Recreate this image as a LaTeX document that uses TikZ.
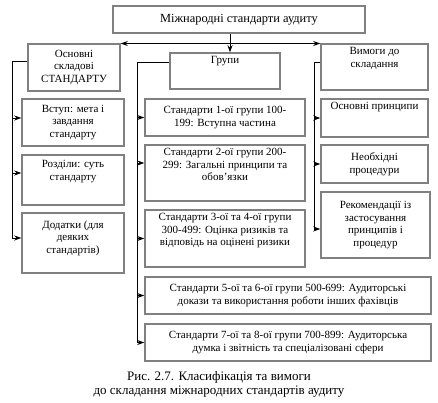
\documentclass[tikz,border=0pt]{standalone}
\usepackage{fontspec}
\setmainfont{Liberation Serif}
\usetikzlibrary{arrows.meta,positioning,calc}

\tikzset{
  blk/.style={draw=black!50,line width=1.5pt,fill=white,align=center,inner sep=1pt,
    font=\fontsize{11}{12.5}\selectfont},
  toptxt/.style={anchor=north,align=center,inner sep=0pt,
    font=\fontsize{11}{12.5}\selectfont},
  arr/.style={-{Stealth[length=7pt,width=5pt]},line width=0.8pt},
  link/.style={line width=0.8pt}
}

\begin{document}
\begin{tikzpicture}[x=1pt,y=-1pt]
\useasboundingbox (0,0) rectangle (438,402);
% top
\node[blk,minimum width=252,minimum height=27,font=\fontsize{12.4}{14}\selectfont] (top) at (239,19.5) {Міжнародні стандарти аудиту};

% left column
\node[blk,minimum width=92,minimum height=47] (osn) at (74,67.5) {Основні\\складові\\СТАНДАРТУ};
\node[blk,minimum width=102,minimum height=47] (vstup) at (73,122.5) {Вступ: мета і\\завдання\\стандарту};
\node[blk,minimum width=102,minimum height=50,label={[toptxt,yshift=-6pt]north:Розділи: суть\\стандарту}] (rozd) at (73,180) {};
\node[blk,minimum width=102,minimum height=60,label={[toptxt,yshift=-8pt]north:Додатки (для\\деяких\\стандартів)}] (dodat) at (73,243) {};

% middle column
\node[blk,minimum width=110,minimum height=36,label={[toptxt,yshift=-4pt]north:Групи}] (grupy) at (225,71) {};
\node[blk,minimum width=160,minimum height=37] (st1) at (225,117.5) {Стандарти 1-ої групи 100-\\199: Вступна частина};
\node[blk,minimum width=160,minimum height=56,label={[toptxt,yshift=-4pt]north:Стандарти 2-ої групи 200-\\299: Загальні принципи та\\обов’язки}] (st2) at (225,173) {};
\node[blk,minimum width=160,minimum height=57,label={[toptxt,yshift=-4pt]north:Стандарти 3-ої та 4-ої групи\\300-499: Оцінка ризиків та\\відповідь на оцінені ризики}] (st3) at (225,238.5) {};
\node[blk,minimum width=286,minimum height=37] (st4) at (288,295.5) {Стандарти 5-ої та 6-ої групи 500-699: Аудиторські\\докази та використання роботи інших фахівців};
\node[blk,minimum width=286,minimum height=37] (st5) at (288,342.5) {Стандарти 7-ої та 8-ої групи 700-899: Аудиторська\\думка і звітність та спеціалізовані сфери};

% right column
\node[blk,minimum width=107,minimum height=46,label={[toptxt,yshift=-4pt]north:Вимоги до\\складання}] (vym) at (374.5,67) {};
\node[blk,minimum width=107,minimum height=38,label={[toptxt,yshift=-4pt]north:Основні принципи}] (princ) at (374.5,118) {};
\node[blk,minimum width=107,minimum height=38] (neobh) at (374.5,164) {Необхідні\\процедури};
\node[blk,minimum width=109,minimum height=66] (rekom) at (375.5,225) {Рекомендації із\\застосування\\принципів і\\процедур};

% caption
\node[align=center,font=\fontsize{13}{13.5}\selectfont] (cap) at (219,384.5) {Рис. 2.7. Класифікація та вимоги\\до складання міжнародних стандартів аудиту};

% connectors from top
\coordinate (j) at (230,43.5);
\draw[arr] (top.south -| j) -- (grupy.north -| j);
\draw[arr] (j) -- (j -| osn.east);
\draw[arr] (j) -- (j -| vym.west);

% left bus
\coordinate (lbus) at (12,238);
\draw[link] ([yshift=6.5pt]osn.west) -| (lbus);
\draw[arr] ([yshift=4.5pt]lbus |- vstup.west) -- ([yshift=4.5pt]vstup.west);
\draw[arr] ([yshift=7pt]lbus |- rozd.west) -- ([yshift=7pt]rozd.west);
\draw[arr] ([yshift=5pt]lbus |- dodat.west) -- ([yshift=5pt]dodat.west);

% middle bus
\coordinate (mbus) at (137,342.5);
\draw[link] ([yshift=9pt]grupy.west) -| (mbus);
\foreach \n in {st1,st3,st4,st5}
  \draw[arr] (mbus |- \n.west) -- (\n.west);
\draw[arr] ([yshift=10pt]mbus |- st2.west) -- ([yshift=10pt]st2.west);

% right bus
\coordinate (rbus) at (314,229);
\draw[link] ([yshift=5pt]vym.west) -| (rbus);
\foreach \n in {princ,neobh}
  \draw[arr] (rbus |- \n.west) -- (\n.west);
\draw[arr] ([yshift=-4pt]rbus |- rekom.west) -- ([yshift=-4pt]rekom.west);
\end{tikzpicture}
\end{document}
